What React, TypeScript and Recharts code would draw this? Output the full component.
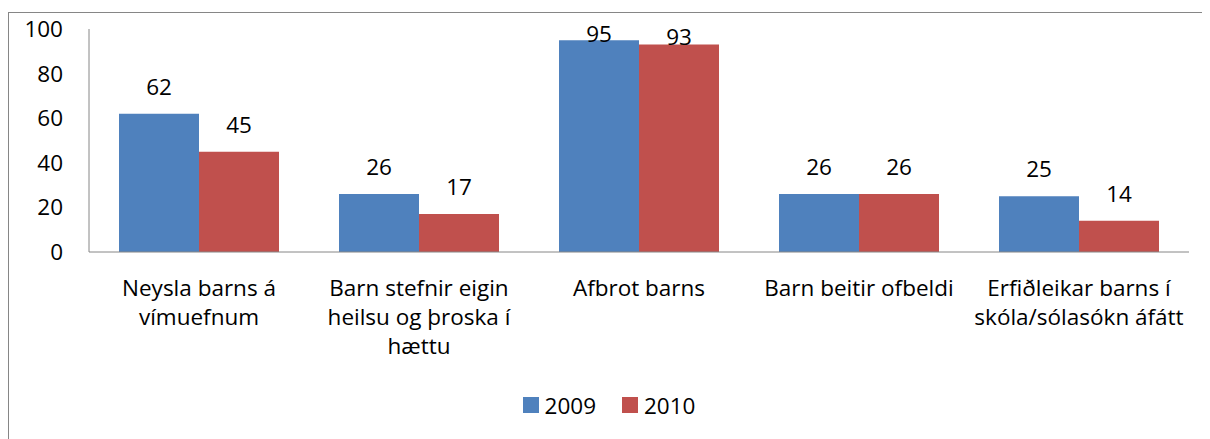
import React from 'react';
import { BarChart, Bar, XAxis, YAxis, Legend, LabelList } from 'recharts';

const categories = [
  'Neysla barns á\nvímuefnum',
  'Barn stefnir eigin\nheilsu og þroska í\nhættu',
  'Afbrot barns',
  'Barn beitir ofbeldi',
  'Erfiðleikar barns í\nskóla/sólasókn áfátt',
];
const values2009 = [62, 26, 95, 26, 25];
const values2010 = [45, 17, 93, 26, 14];
const yTicks = [0, 20, 40, 60, 80, 100];
const seriesNames = ['2009', '2010'];
const colors = ['#4F81BD', '#C0504D'];

const data = categories.map((c, i) => ({ name: c, s2009: values2009[i], s2010: values2010[i] }));

const FONT = '"Open Sans", sans-serif';
const FS = 22.5;

const XTick = (props: any) => {
  const { x, y, payload } = props;
  const lines = String(payload.value).split('\n');
  return (
    <g>
      {lines.map((l: string, i: number) => (
        <text key={i} x={x} y={y + 36 + i * 29} textAnchor="middle" fontSize={FS} fontFamily={FONT} fill="#000">
          {l}
        </text>
      ))}
    </g>
  );
};

const BarLabel = (props: any) => {
  const { x, y, width, value } = props;
  let b = y - 19;
  if (b < 40) b = Math.max(y, 34);
  return (
    <text x={x + width / 2} y={b} textAnchor="middle" fontSize={FS} fontFamily={FONT} fill="#000">
      {value}
    </text>
  );
};

const LegendContent = () => (
  <div style={{ display: 'flex', justifyContent: 'center', alignItems: 'center', height: 30, fontFamily: FONT, fontSize: FS, color: '#000' }}>
    {seriesNames.map((n, i) => (
      <div key={n} style={{ display: 'flex', alignItems: 'center', marginRight: i === 0 ? 26 : 0 }}>
        <div style={{ width: 16, height: 16, background: colors[i], marginRight: 6 }} />
        <span>{n}</span>
      </div>
    ))}
  </div>
);

export default function App() {
  return (
    <div style={{ position: 'relative', width: 1202, height: 431 }}>
      <BarChart
        width={1202}
        height={431}
        data={data}
        margin={{ top: 21, right: 21, bottom: 37, left: 0 }}
        barCategoryGap={30}
        barGap={0}
      >
        <YAxis
          width={81}
          domain={[0, 100]}
          ticks={yTicks}
          tickLine={false}
          tickSize={0}
          tickMargin={26}
          axisLine={{ stroke: '#868686', strokeWidth: 1 }}
          tick={{ fill: '#000', fontSize: FS, fontFamily: FONT }}
        />
        <XAxis
          dataKey="name"
          height={120}
          tickLine={false}
          axisLine={{ stroke: '#868686', strokeWidth: 1 }}
          tick={<XTick />}
          interval={0}
        />
        <Legend verticalAlign="bottom" content={<LegendContent />} wrapperStyle={{ top: 382, left: 0, width: 1202 }} />
        <Bar dataKey="s2009" name={seriesNames[0]} fill={colors[0]} isAnimationActive={false}>
          <LabelList dataKey="s2009" content={<BarLabel />} />
        </Bar>
        <Bar dataKey="s2010" name={seriesNames[1]} fill={colors[1]} isAnimationActive={false}>
          <LabelList dataKey="s2010" content={<BarLabel />} />
        </Bar>
      </BarChart>
      <div style={{ position: 'absolute', left: -1, top: 4, width: 1300, height: 500, borderTop: '1.5px solid #868686', borderLeft: '2px solid #868686', boxSizing: 'border-box', zIndex: 5, pointerEvents: 'none' }} />
    </div>
  );
}
